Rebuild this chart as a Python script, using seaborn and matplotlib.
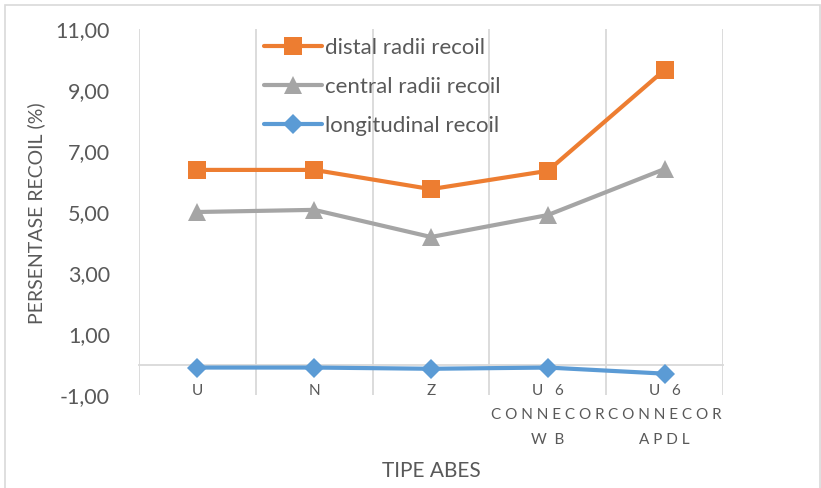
import matplotlib
matplotlib.use("Agg")
import matplotlib.pyplot as plt
from matplotlib.patches import Rectangle
import seaborn as sns
import pandas as pd
import numpy as np

# Recoil percentages per abutment type
categories = ["U", "N", "Z", "U   6\nC O N N E C O R\nW  B", "U   6\nC O N N E C O R\nA P D L"]
distal_radii = [6.38, 6.38, 5.75, 6.35, 9.66]
central_radii = [5.00, 5.07, 4.18, 4.90, 6.41]
longitudinal = [-0.10, -0.10, -0.14, -0.10, -0.30]
series_names = ["distal radii recoil", "central radii recoil", "longitudinal recoil"]
y_ticks = [-1, 1, 3, 5, 7, 9, 11]

sns.set_theme(style="white")
plt.rcParams["font.family"] = ["Lato", "DejaVu Sans"]
text_color = "#595959"
grid_color = "#D9D9D9"

positions = np.arange(len(categories))
series_values = [distal_radii, central_radii, longitudinal]
colors = ["#ED7D31", "#A5A5A5", "#5B9BD5"]
marker_styles = ["s", "^", "D"]
marker_sizes = [12.5, 13, 10]

fig = plt.figure(figsize=(8.21, 4.88), dpi=100)
ax = fig.add_axes([139 / 821, 1 - 395 / 488, (723 - 139) / 821, (395 - 29) / 488])

for name, vals, col, mk, ms in zip(series_names, series_values, colors, marker_styles, marker_sizes):
    df = pd.DataFrame({"pos": positions, "value": vals})
    sns.lineplot(data=df, x="pos", y="value", color=col, marker=mk, markersize=ms,
                 linewidth=3, markeredgewidth=0, label=name, ax=ax, zorder=3)

ax.set_xlim(-0.5, len(categories) - 0.5)
ax.set_ylim(-1, 11)
ax.tick_params(axis="y", length=0, pad=21, labelsize=15.5, labelcolor=text_color)
ax.tick_params(axis="x", which="both", length=0)
ax.set_yticks(y_ticks)
ax.set_yticklabels([f"{v:,.2f}".replace(".", ",") for v in y_ticks])

# Category boundaries as vertical gridlines
ax.set_xticks(np.arange(-0.5, len(categories)), minor=True)
ax.grid(which="minor", axis="x", color=grid_color, linewidth=1.3)
ax.set_xticks(positions)
ax.set_xticklabels([])

# Category labels hang just below the zero line
for pos, cat in zip(positions, categories):
    ax.annotate(cat, xy=(pos, 0), xytext=(0, -14), textcoords="offset points",
                ha="center", va="top", fontsize=11, color=text_color,
                linespacing=1.95, annotation_clip=False)

for side in ["top", "right", "left"]:
    ax.spines[side].set_visible(False)
ax.spines["bottom"].set_position(("data", 0))
ax.spines["bottom"].set_color(grid_color)
ax.spines["bottom"].set_linewidth(1.3)

ax.set_xlabel("")
ax.set_ylabel("")
fig.text(431 / 821, 1 - 471 / 488, "TIPE ABES", ha="center", va="center",
         fontsize=15, color=text_color)
fig.text(36 / 821, 1 - 213 / 488, "PERSENTASE RECOIL (%)", ha="center", va="center",
         rotation=90, fontsize=14, color=text_color)

ax.legend(loc="upper left", bbox_to_anchor=(0.18, 1.03), frameon=False,
          fontsize=16, labelcolor=text_color, handlelength=2.6,
          handletextpad=0.15, labelspacing=0.85)

# Chart-area border
fig.patches.append(Rectangle((4.5 / 821, -2 / 488), 815 / 821, (488 - 3) / 488,
                             transform=fig.transFigure, fill=False,
                             edgecolor=grid_color, linewidth=1.2))

fig.savefig("out.png", dpi=100)
